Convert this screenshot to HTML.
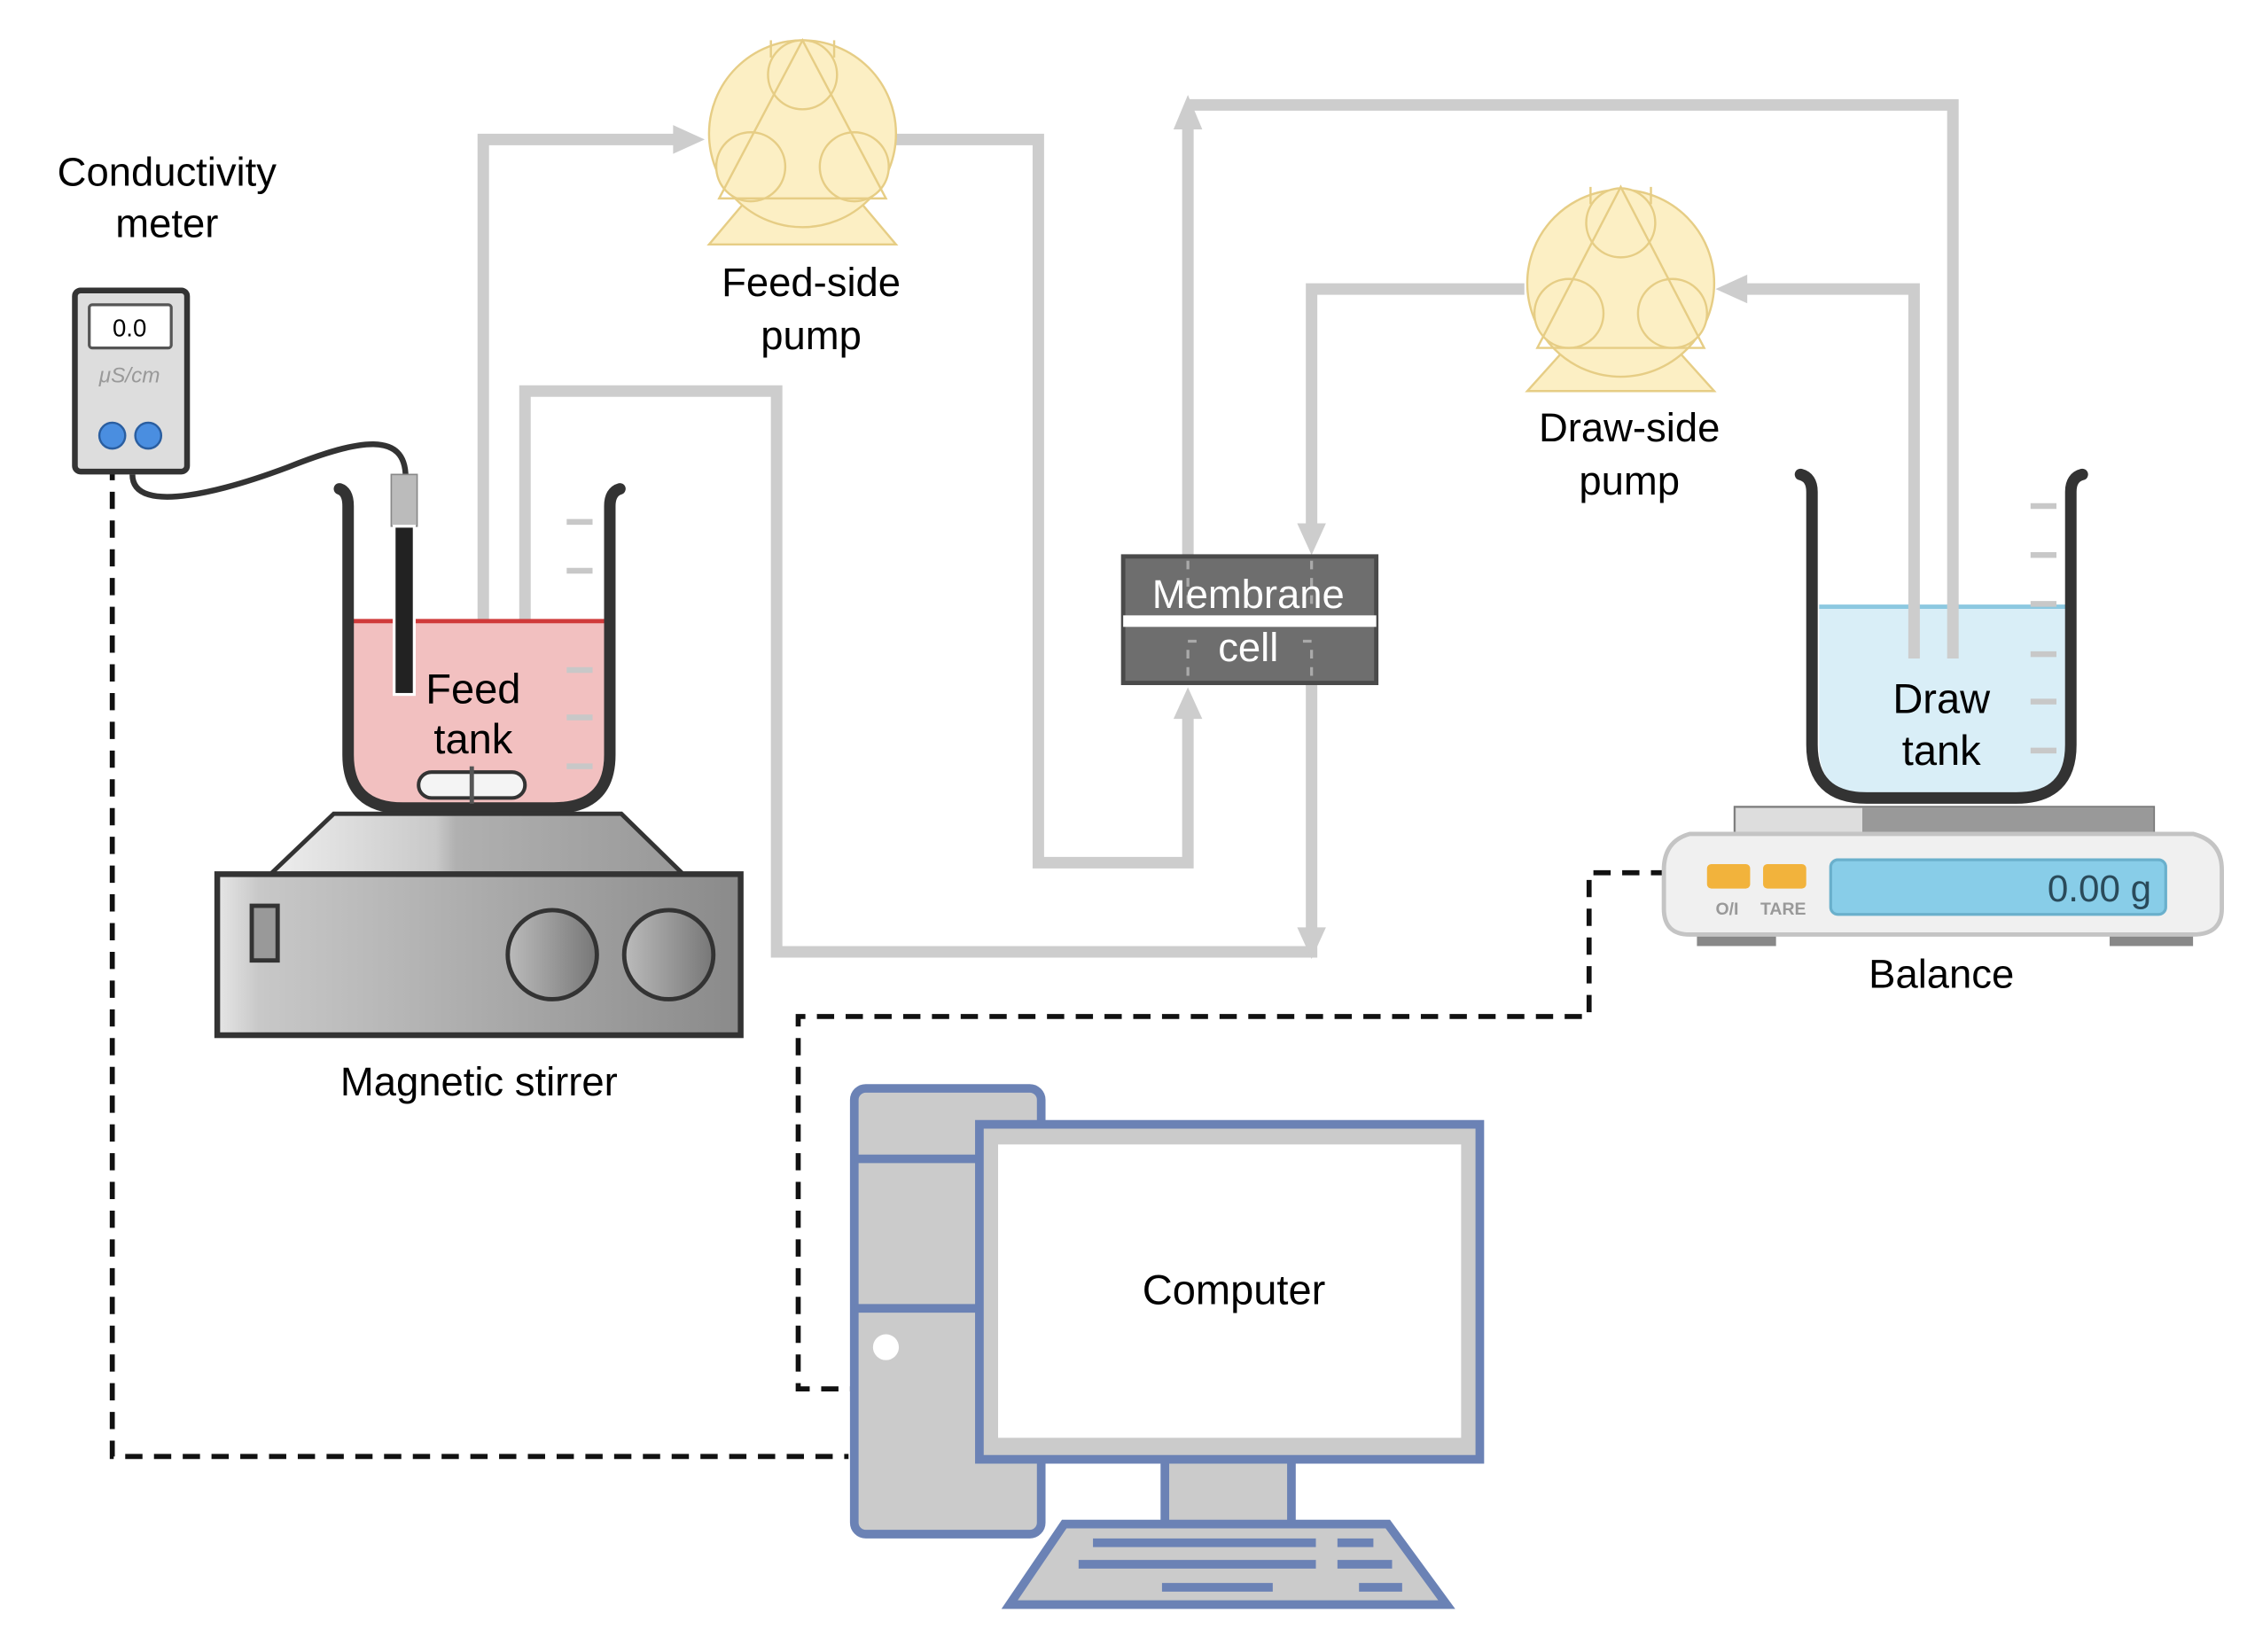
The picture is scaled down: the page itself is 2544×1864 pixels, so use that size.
<!DOCTYPE html>
<html><head><meta charset="utf-8"><style>html,body{margin:0;padding:0;background:#fff}svg{display:block}text{font-family:"Liberation Sans",sans-serif}</style></head>
<body>
<svg width="2544" height="1864" viewBox="0 0 1568 1149" xmlns="http://www.w3.org/2000/svg">
<defs>
<linearGradient id="g1" x1="0" x2="1"><stop offset="0" stop-color="#e6e6e6"/><stop offset="0.08" stop-color="#c8c8c8"/><stop offset="1" stop-color="#8a8a8a"/></linearGradient>
<linearGradient id="g2" x1="0" x2="1"><stop offset="0" stop-color="#bbb"/><stop offset="1" stop-color="#777"/></linearGradient>
<linearGradient id="g3" x1="0" x2="1"><stop offset="0" stop-color="#eee"/><stop offset="0.4" stop-color="#c9c9c9"/><stop offset="0.45" stop-color="#b0b0b0"/><stop offset="1" stop-color="#999"/></linearGradient>
</defs>
<rect width="1568" height="1149" fill="#fff"/>
<g fill="none" stroke="#111" stroke-width="3.5" stroke-dasharray="12,8">
<path d="M78 322 V1013 H590"/>
<path d="M1160 607 H1105 V707 H555 V966 H592"/>
</g>
<g fill="none" stroke="#cdcdcd" stroke-width="8">
<path d="M336 455 V97 H475"/>
<path d="M623 97 H722 V600 H826 V495"/>
<path d="M365 455 V272 H540 V662 H912 V475"/>
<path d="M826 388 V88"/>
<path d="M826 73 H1358 V458"/>
<path d="M1331 458 V201 H1210"/>
<path d="M1060 201 H912 V370"/>
</g>
<g fill="#cdcdcd">
<polygon points="490,97 468,87 468,107"/>
<polygon points="826,478 816,500 836,500"/>
<polygon points="912,667 902,645 922,645"/>
<polygon points="826,66 816,90 836,90"/>
<polygon points="1193,201 1215,191 1215,211"/>
<polygon points="912,386 902,364 922,364"/>
</g>
<text x="116" y="129" font-size="28" text-anchor="middle">Conductivity</text>
<text x="116" y="165" font-size="28" text-anchor="middle">meter</text>
<rect x="52" y="202" width="78" height="126" rx="4" fill="#ddd" stroke="#333" stroke-width="4"/>
<rect x="62" y="212" width="57" height="30" rx="2" fill="#fff" stroke="#555" stroke-width="2"/>
<text x="90" y="234" font-size="17" text-anchor="middle">0.0</text>
<text x="90" y="266" font-size="15" text-anchor="middle" fill="#999" font-style="italic">μS/cm</text>
<circle cx="78" cy="303" r="9" fill="#4a8ee0" stroke="#2a5ea0" stroke-width="1.5"/>
<circle cx="103" cy="303" r="9" fill="#4a8ee0" stroke="#2a5ea0" stroke-width="1.5"/>
<path d="M92 330 C92 360 160 340 200 325 C250 305 282 300 282 332" fill="none" stroke="#333" stroke-width="4"/>
<path d="M245 432 H420 V525 Q420 560 385 560 H280 Q245 560 245 525 Z" fill="#f2c0c0"/>
<line x1="245" y1="432" x2="420" y2="432" stroke="#d03a3a" stroke-width="3"/>
<path d="M236 340 Q242 342 242 352 V525 Q242 562 280 562 H385 Q424 562 424 525 V352 Q424 342 431 340" fill="none" stroke="#333" stroke-width="8" stroke-linecap="round"/>
<g stroke="#c8c8c8" stroke-width="4"><line x1="394" y1="363" x2="412" y2="363"/><line x1="394" y1="397" x2="412" y2="397"/><line x1="394" y1="466" x2="412" y2="466"/><line x1="394" y1="499" x2="412" y2="499"/><line x1="394" y1="533" x2="412" y2="533"/></g>
<rect x="272" y="330" width="18" height="36" fill="#bbb" stroke="#888" stroke-width="1"/>
<rect x="274" y="366" width="14" height="117" fill="#222" stroke="#fff" stroke-width="2"/>
<rect x="291" y="537" width="74" height="18" rx="9" fill="#f4f4f4" stroke="#333" stroke-width="2.5"/>
<line x1="328" y1="533" x2="328" y2="559" stroke="#555" stroke-width="3"/>
<text x="329" y="489" font-size="29" text-anchor="middle">Feed</text>
<text x="329" y="524" font-size="29" text-anchor="middle">tank</text>
<polygon points="232,566 432,566 475,608 188,608" fill="url(#g3)" stroke="#333" stroke-width="3"/>
<rect x="151" y="608" width="364" height="112" fill="url(#g1)" stroke="#333" stroke-width="4"/>
<rect x="175" y="630" width="18" height="38" fill="#999" stroke="#333" stroke-width="3"/>
<circle cx="384" cy="664" r="31" fill="url(#g2)" stroke="#333" stroke-width="3"/>
<circle cx="465" cy="664" r="31" fill="url(#g2)" stroke="#333" stroke-width="3"/>
<text x="333" y="762" font-size="28" text-anchor="middle">Magnetic stirrer</text>
<g fill="#fcefc4" stroke="#e6cd85" stroke-width="1.5">
<polygon points="520,138 596,138 623,170 493,170"/>
<circle cx="558" cy="93" r="65"/>
<circle cx="558" cy="52" r="24"/><circle cx="522" cy="116" r="24"/><circle cx="594" cy="116" r="24"/>
<polygon points="558,28 500,138 616,138" fill="none"/>
<line x1="536" y1="28" x2="536" y2="40"/><line x1="580" y1="28" x2="580" y2="40"/>
</g>
<text x="564" y="206" font-size="28" text-anchor="middle">Feed-side</text>
<text x="564" y="243" font-size="28" text-anchor="middle">pump</text>
<g fill="#fcefc4" stroke="#e6cd85" stroke-width="1.5">
<polygon points="1089,242 1165,242 1192,272 1062,272"/>
<circle cx="1127" cy="197" r="65"/>
<circle cx="1127" cy="155" r="24"/><circle cx="1091" cy="218" r="24"/><circle cx="1163" cy="218" r="24"/>
<polygon points="1127,130 1069,242 1185,242" fill="none"/>
<line x1="1106" y1="130" x2="1106" y2="142"/><line x1="1148" y1="130" x2="1148" y2="142"/>
</g>
<text x="1133" y="307" font-size="28" text-anchor="middle">Draw-side</text>
<text x="1133" y="344" font-size="28" text-anchor="middle">pump</text>
<rect x="781" y="387" width="176" height="88" fill="#6e6e6e" stroke="#4a4a4a" stroke-width="3"/>
<rect x="781" y="428" width="176" height="8" fill="#fff"/>
<g stroke="#aaa" stroke-width="2" stroke-dasharray="6,6" fill="none"><line x1="826" y1="390" x2="826" y2="426"/><line x1="912" y1="390" x2="912" y2="426"/><path d="M826 470 V446 H836"/><path d="M912 470 V446 H902"/></g>
<text x="868" y="423" font-size="28" text-anchor="middle" fill="#fff">Membrane</text>
<text x="868" y="460" font-size="28" text-anchor="middle" fill="#fff">cell</text>
<path d="M1265 422 H1437 V520 Q1437 553 1400 553 H1300 Q1265 553 1265 520 Z" fill="#d9eef7"/>
<line x1="1265" y1="422" x2="1437" y2="422" stroke="#8cc8e0" stroke-width="3"/>
<g fill="none" stroke="#cdcdcd" stroke-width="8"><line x1="1331" y1="420" x2="1331" y2="458"/><line x1="1358" y1="420" x2="1358" y2="458"/></g>
<path d="M1252 330 Q1260 332 1260 342 V518 Q1260 555 1298 555 H1402 Q1440 555 1440 518 V342 Q1440 332 1448 330" fill="none" stroke="#333" stroke-width="8" stroke-linecap="round"/>
<g stroke="#c8c8c8" stroke-width="4"><line x1="1412" y1="352" x2="1430" y2="352"/><line x1="1412" y1="386" x2="1430" y2="386"/><line x1="1412" y1="420" x2="1430" y2="420"/><line x1="1412" y1="455" x2="1430" y2="455"/><line x1="1412" y1="488" x2="1430" y2="488"/><line x1="1412" y1="522" x2="1430" y2="522"/></g>
<text x="1350" y="496" font-size="29" text-anchor="middle">Draw</text>
<text x="1350" y="532" font-size="29" text-anchor="middle">tank</text>
<rect x="1206" y="561" width="292" height="20" fill="#999" stroke="#777" stroke-width="1"/>
<rect x="1207" y="562" width="88" height="18" fill="#ddd"/>
<rect x="1180" y="646" width="55" height="12" fill="#888"/>
<rect x="1467" y="646" width="58" height="12" fill="#888"/>
<path d="M1175 580 H1525 Q1545 585 1545 605 V632 Q1545 650 1525 650 H1175 Q1157 650 1157 632 V605 Q1157 585 1175 580 Z" fill="#f0f0f0" stroke="#c4c4c4" stroke-width="3"/>
<rect x="1273" y="598" width="233" height="38" rx="5" fill="#88cde8" stroke="#6ab0cc" stroke-width="2"/>
<text x="1496" y="627" font-size="26" text-anchor="end" fill="#2a4a5a" font-family="Liberation Mono, monospace">0.00 g</text>
<rect x="1187" y="601" width="30" height="17" rx="3" fill="#f2b33c"/>
<rect x="1226" y="601" width="30" height="17" rx="3" fill="#f2b33c"/>
<text x="1201" y="636" font-size="12" text-anchor="middle" fill="#999" font-weight="bold">O/I</text>
<text x="1240" y="636" font-size="12" text-anchor="middle" fill="#999" font-weight="bold">TARE</text>
<text x="1350" y="687" font-size="28" text-anchor="middle">Balance</text>
<rect x="594" y="757" width="130" height="310" rx="8" fill="#cbcbcb" stroke="#6b82b5" stroke-width="6"/>
<line x1="594" y1="806" x2="724" y2="806" stroke="#6b82b5" stroke-width="6"/>
<line x1="594" y1="910" x2="724" y2="910" stroke="#6b82b5" stroke-width="6"/>
<circle cx="616" cy="937" r="9" fill="#fff"/>
<rect x="810" y="1013" width="88" height="48" fill="#cbcbcb" stroke="#6b82b5" stroke-width="6"/>
<rect x="681" y="782" width="348" height="233" fill="#cbcbcb" stroke="#6b82b5" stroke-width="6"/>
<rect x="694" y="796" width="322" height="204" fill="#fff"/>
<polygon points="740,1060 965,1060 1006,1116 702,1116" fill="#cbcbcb" stroke="#6b82b5" stroke-width="6"/>
<g stroke="#6b82b5" stroke-width="6"><line x1="760" y1="1073" x2="915" y2="1073"/><line x1="930" y1="1073" x2="955" y2="1073"/><line x1="750" y1="1088" x2="915" y2="1088"/><line x1="930" y1="1088" x2="968" y2="1088"/><line x1="808" y1="1104" x2="885" y2="1104"/><line x1="945" y1="1104" x2="975" y2="1104"/></g>
<text x="858" y="907" font-size="29" text-anchor="middle">Computer</text>
</svg>
</body></html>
